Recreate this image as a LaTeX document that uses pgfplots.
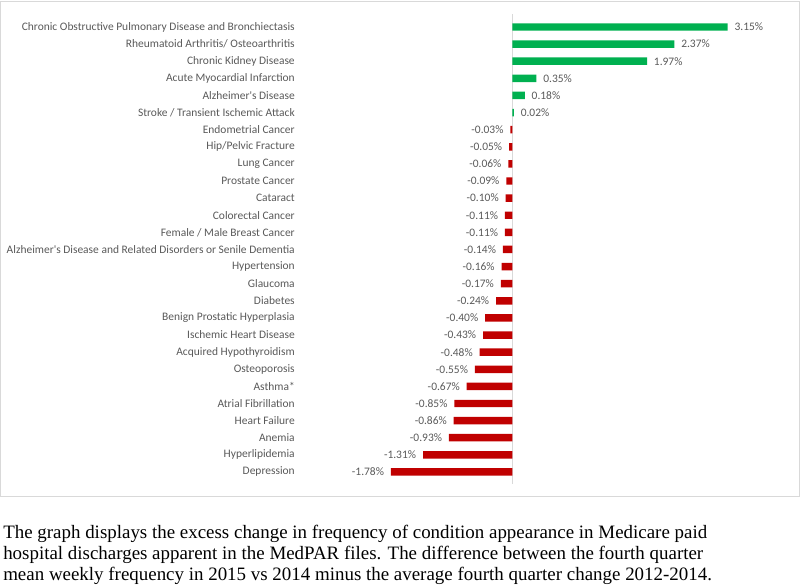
\documentclass[border=0pt]{standalone}
\usepackage{pgfplots}
\pgfplotsset{compat=1.18}
\usepackage{fontspec}
\setmainfont{Liberation Serif}
\newfontfamily\calfont{Carlito}
\definecolor{txt}{HTML}{595959}
\definecolor{grn}{HTML}{00B050}
\definecolor{rd}{HTML}{C00000}
\definecolor{frm}{HTML}{D9D9D9}
\begin{document}
\begin{tikzpicture}
\begin{axis}[
  at={(0pt,0pt)}, anchor=south west,
  width=360pt, height=359.4pt, scale only axis,
  xmin=-3.111, xmax=3.917, ymin=-1, ymax=27, y dir=reverse,
  axis line style={draw=none}, tick style={draw=none},
  xtick=\empty,
  ytick={0,...,26},
  yticklabels={Chronic Obstructive Pulmonary Disease and Bronchiectasis,
    Rheumatoid Arthritis/ Osteoarthritis,
    Chronic Kidney Disease,
    Acute Myocardial Infarction,
    Alzheimer's Disease,
    Stroke / Transient Ischemic Attack,
    Endometrial Cancer,
    Hip/Pelvic Fracture,
    Lung Cancer,
    Prostate Cancer,
    Cataract,
    Colorectal Cancer,
    Female / Male Breast Cancer,
    Alzheimer's Disease and Related Disorders or Senile Dementia,
    Hypertension,
    Glaucoma,
    Diabetes,
    Benign Prostatic Hyperplasia,
    Ischemic Heart Disease,
    Acquired Hypothyroidism,
    Osteoporosis,
    Asthma*,
    Atrial Fibrillation,
    Heart Failure,
    Anemia,
    Hyperlipidemia,
    Depression},
  yticklabel style={font=\calfont\fontsize{8.6}{10}\selectfont, text=txt, inner sep=0pt, xshift=-3.75pt},
  clip=false,
  /pgf/number format/assume math mode=true,
]
\addplot[draw=frm, line width=0.9pt] coordinates {(0,-0.75) (0,26.7)};
\addplot[xbar, bar width=5.6pt, bar shift=0pt, fill=grn, draw=none,
  point meta=x, nodes near coords={\pgfmathprintnumber[fixed,fixed zerofill,precision=2]{\pgfplotspointmeta}\%},
  every node near coord/.append style={anchor=west, inner sep=0pt, xshift=5pt, font=\calfont\fontsize{8.6}{10}\selectfont, text=txt}]
  coordinates {(3.15,0) (2.37,1) (1.97,2) (0.35,3) (0.18,4) (0.02,5)};
\addplot[xbar, bar width=5.6pt, bar shift=0pt, fill=rd, draw=none,
  point meta=x, nodes near coords={\pgfmathprintnumber[fixed,fixed zerofill,precision=2]{\pgfplotspointmeta}\%},
  every node near coord/.append style={anchor=east, inner sep=0pt, xshift=-5pt, font=\calfont\fontsize{8.6}{10}\selectfont, text=txt}]
  coordinates {(-0.03,6) (-0.05,7) (-0.06,8) (-0.09,9) (-0.10,10) (-0.11,11) (-0.11,12) (-0.14,13) (-0.16,14) (-0.17,15) (-0.24,16) (-0.40,17) (-0.43,18) (-0.48,19) (-0.55,20) (-0.67,21) (-0.85,22) (-0.86,23) (-0.93,24) (-1.31,25) (-1.78,26)};
\end{axis}
\draw[frm, line width=0.75pt] (-224.6pt,365.7pt) rectangle (374.6pt,-5.9pt);
\node[anchor=base west, inner sep=0pt, align=left, font=\fontsize{14.2}{15.75}\selectfont] at (-222.75pt,-68.2pt)
  {The graph displays the excess change in frequency of condition appearance in Medicare paid\\
   hospital discharges apparent in the MedPAR files. The difference between the fourth quarter\\
   mean weekly frequency in 2015 vs 2014 minus the average fourth quarter change 2012-2014.};
\pgfresetboundingbox
\useasboundingbox (-225pt,-72.7pt) rectangle ++(600pt,439.5pt);
\end{tikzpicture}
\end{document}
